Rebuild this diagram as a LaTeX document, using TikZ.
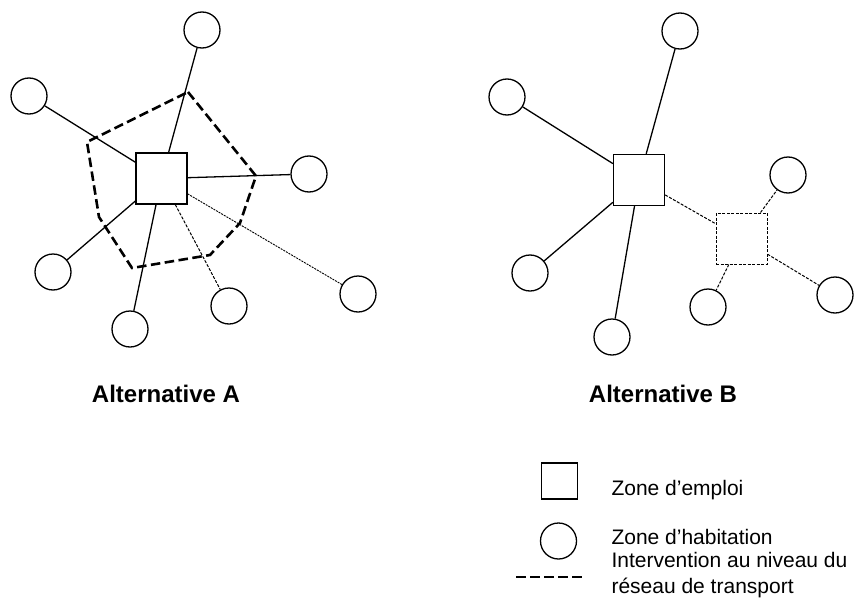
\documentclass[tikz,border=0pt]{standalone}
\usepackage{fontspec}
\setmainfont{Liberation Sans}
\begin{document}
\begin{tikzpicture}[x=1pt,y=-1pt,
  zone/.style={draw,circle,minimum size=36pt,inner sep=0pt,line width=1.3pt},
  emploi/.style={draw,rectangle,minimum size=51pt,inner sep=0pt,line width=1.3pt},
  link/.style={line width=1.3pt},
  finelink/.style={line width=1pt,dash pattern=on 3pt off 1.5pt},
  network/.style={line width=2.6pt,dash pattern=on 9.5pt off 4.5pt},
  title/.style={font=\bfseries\fontsize{24}{28}\selectfont,anchor=base},
  legtext/.style={font=\fontsize{21}{27}\selectfont,anchor=base west}]
\useasboundingbox (0,0) rectangle (856,610);

% Alternative A
\node[emploi] (sa) at (161.5,178.5) {};
\node[zone] (a1) at (202,30) {};
\node[zone] (a2) at (29,96) {};
\node[zone] (a3) at (309,174) {};
\node[zone] (a4) at (53,272) {};
\node[zone] (a5) at (130,329) {};
\node[zone] (a6) at (229,306) {};
\node[zone] (a7) at (358,294) {};
\draw[link] (sa) -- (a1);
\draw[link] (sa) -- (a2);
\draw[link] (sa) -- (a3);
\draw[link] (sa) -- (a4);
\draw[link] (sa) -- (a5);
\draw[finelink] (sa) -- (a6);
\draw[line width=0.9pt,dash pattern=on 2pt off 1pt] (sa) -- (a7);

% transport network ring
\coordinate (p1) at (188,92);
\coordinate (p2) at (256,176);
\coordinate (p3) at (240,223);
\coordinate (p4) at (210,255);
\coordinate (p5) at (132,268);
\coordinate (p6) at (99,217);
\coordinate (p7) at (87,142);
\draw[network] (p1) -- (p2) -- (p3) -- (p4) -- (p5) -- (p6) -- (p7) -- cycle;

\node[title] (ta) at (166,402) {Alternative A};

% Alternative B
\node[emploi] (sb) at (639,180) {};
\node[emploi,finelink] (sc) at (741.5,238.5) {};
\node[zone] (b1) at (680,31) {};
\node[zone] (b2) at (507,97) {};
\node[zone] (b3) at (530,273) {};
\node[zone] (b4) at (612,337) {};
\node[zone] (b5) at (788,175) {};
\node[zone] (b6) at (708,307) {};
\node[zone] (b7) at (835,295) {};
\draw[link] (sb) -- (b1);
\draw[link] (sb) -- (b2);
\draw[link] (sb) -- (b3);
\draw[link] (sb) -- (b4);
\draw[finelink] (sb) -- (sc);
\draw[finelink] (sc) -- (b5);
\draw[finelink] (sc) -- (b6);
\draw[finelink] (sc) -- (b7);

\node[title] (tb) at (663,402) {Alternative B};

% legend
\node[emploi,minimum size=36pt] (le) at (559.5,481) {};
\node[zone] (lh) at (558.5,541) {};
\coordinate (ln1) at (516,577);
\coordinate (ln2) at (582,577);
\draw[network,line width=2.4pt] (ln1) -- (ln2);
\node[legtext] (te) at (608,495) {Zone d’emploi};
\node[legtext] (th) at (608,544) {Zone d’habitation};
\node[legtext,align=left] (ti) at (608,567) {Intervention au niveau du};
\node[legtext] (tr) at (608,593) {réseau de transport};
\end{tikzpicture}
\end{document}
